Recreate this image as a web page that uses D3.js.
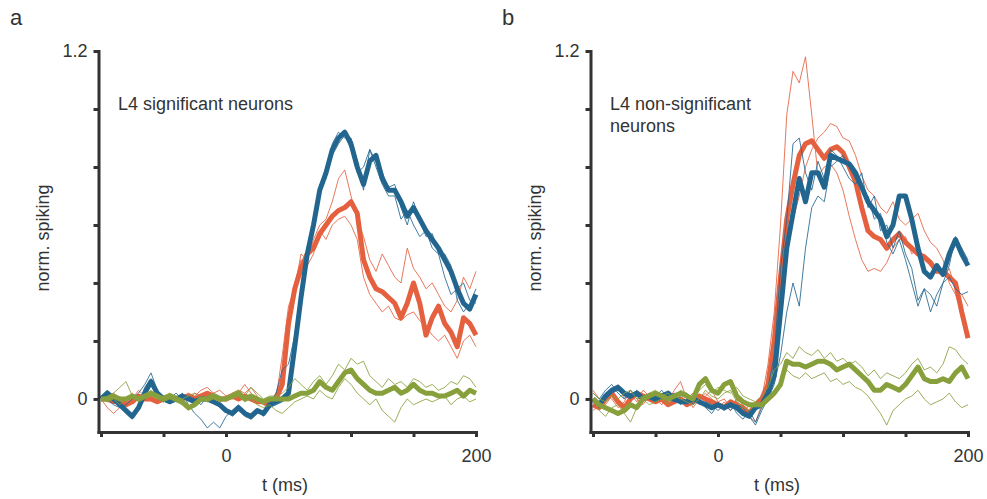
<!DOCTYPE html>
<html>
<head>
<meta charset="utf-8">
<script src="https://cdn.jsdelivr.net/npm/d3@7"></script>
<style>
  body { margin: 0; background: #fff; }
  svg text { font-family: "Liberation Sans", Arial, sans-serif; fill: #333; }
</style>
</head>
<body>
<div id="chart"></div>
<script>
// time points (ms), one every 5 ms
const times = [-100,-95,-90,-85,-80,-75,-70,-65,-60,-55,
  -50,-45,-40,-35,-30,-25,-20,-15,-10,-5,
  0,5,10,15,20,25,30,35,40,45,
  50,55,60,65,70,75,80,85,90,95,
  100,105,110,115,120,125,130,135,140,145,
  150,155,160,165,170,175,180,185,190,195,200];

const yTicks = [0, 0.2, 0.4, 0.6, 0.8, 1.0, 1.2];
const yLabelled = [0, 1.2];
const xTicks = [-100, -50, 0, 50, 100, 150, 200];
const xLabelled = [0, 200];

const colors = { red: '#e4603f', blue: '#22668f', green: '#87a03c' };

// ---- panel a : L4 significant neurons ----
const aBlueMean = [0.00,0.02,0.00,-0.02,-0.04,-0.06,-0.03,0.02,0.06,0.02,
  0.00,-0.01,0.00,0.01,0.00,-0.01,0.00,0.00,-0.01,-0.02,
  -0.04,-0.05,-0.03,-0.05,-0.06,-0.04,-0.05,-0.02,-0.01,0.00,
  0.02,0.18,0.35,0.50,0.60,0.72,0.78,0.86,0.90,0.92,
  0.88,0.80,0.74,0.82,0.84,0.76,0.72,0.72,0.68,0.63,
  0.66,0.62,0.58,0.55,0.52,0.48,0.44,0.38,0.33,0.31,0.36];
const aBlue1 = [0.01,0.00,-0.02,-0.03,-0.02,0.00,0.02,0.05,0.09,0.03,
  0.00,0.01,0.00,0.02,-0.02,-0.05,-0.07,-0.10,-0.08,-0.10,
  -0.06,-0.04,-0.02,-0.06,-0.07,-0.04,-0.06,-0.02,0.02,0.10,
  0.12,0.22,0.38,0.52,0.62,0.70,0.80,0.84,0.88,0.91,
  0.86,0.78,0.80,0.86,0.80,0.74,0.70,0.70,0.62,0.65,
  0.60,0.56,0.58,0.52,0.50,0.42,0.36,0.38,0.40,0.34,0.33];
const aBlue2 = [0.00,0.03,0.01,-0.01,-0.05,-0.07,-0.02,0.04,0.07,0.01,
  -0.01,0.00,0.02,0.00,0.01,0.00,-0.02,0.01,0.00,-0.03,
  -0.03,-0.06,-0.04,-0.04,-0.07,-0.05,-0.04,-0.03,-0.02,-0.01,
  0.01,0.15,0.33,0.48,0.62,0.74,0.76,0.88,0.92,0.90,
  0.90,0.82,0.72,0.86,0.82,0.78,0.73,0.74,0.66,0.60,
  0.68,0.62,0.56,0.57,0.50,0.50,0.46,0.34,0.30,0.33,0.38];
const aRedMean = [0.00,0.00,-0.01,0.00,-0.02,-0.01,0.01,0.00,0.00,-0.01,
  0.00,0.01,0.00,0.00,0.01,0.00,0.01,0.02,0.01,0.00,
  0.00,0.01,0.00,0.01,0.00,-0.01,-0.01,-0.02,0.00,0.05,
  0.26,0.38,0.45,0.50,0.52,0.57,0.60,0.63,0.65,0.66,
  0.68,0.64,0.48,0.42,0.38,0.37,0.35,0.33,0.28,0.33,
  0.40,0.33,0.22,0.28,0.32,0.26,0.23,0.18,0.28,0.26,0.22];
const aRed1 = [0.00,-0.03,-0.05,-0.03,0.00,0.02,0.00,0.02,0.01,-0.01,
  0.00,0.01,0.00,0.01,0.02,0.01,0.03,0.04,0.02,0.00,
  0.01,0.02,0.03,0.02,0.04,0.01,-0.02,-0.03,0.00,0.15,
  0.32,0.38,0.50,0.48,0.55,0.60,0.62,0.68,0.76,0.79,
  0.70,0.62,0.56,0.48,0.44,0.50,0.46,0.42,0.40,0.52,
  0.45,0.42,0.38,0.40,0.36,0.32,0.30,0.34,0.42,0.38,0.44];
const aRed2 = [0.00,0.01,0.02,0.00,-0.01,0.00,0.03,0.01,0.00,0.02,
  0.01,0.00,0.01,0.00,0.00,0.02,0.01,0.00,0.02,0.03,
  0.01,0.00,0.02,0.05,0.02,0.00,-0.02,-0.01,0.02,0.08,
  0.28,0.40,0.48,0.46,0.50,0.58,0.55,0.60,0.62,0.63,
  0.60,0.55,0.42,0.36,0.33,0.30,0.32,0.28,0.27,0.29,
  0.30,0.27,0.25,0.22,0.20,0.22,0.18,0.14,0.20,0.22,0.18];
const aGreenMean = [0.00,0.00,0.01,0.00,0.00,0.01,0.00,0.01,0.02,0.01,
  0.00,0.01,0.00,-0.01,-0.03,-0.02,0.00,0.00,0.01,0.00,
  0.00,0.01,0.02,0.00,0.01,0.00,-0.01,0.00,0.00,0.00,
  0.00,0.01,0.02,0.02,0.03,0.06,0.04,0.03,0.06,0.09,
  0.10,0.07,0.05,0.03,0.02,0.02,0.03,0.04,0.02,0.03,
  0.05,0.03,0.02,0.02,0.01,0.01,0.02,0.03,0.01,0.03,0.02];
const aGreen1 = [0.00,0.01,0.02,0.04,0.06,0.01,0.00,0.01,0.03,0.00,
  0.01,0.02,0.01,0.00,0.01,0.02,0.00,0.01,0.02,0.01,
  0.00,0.02,0.03,0.01,0.04,0.02,0.00,0.01,0.01,0.02,
  0.04,0.07,0.05,0.03,0.06,0.08,0.05,0.08,0.12,0.10,
  0.14,0.12,0.13,0.08,0.06,0.04,0.07,0.05,0.06,0.04,
  0.07,0.06,0.04,0.05,0.03,0.04,0.06,0.05,0.08,0.07,0.04];
const aGreen2 = [0.00,-0.01,0.00,-0.02,0.00,0.01,-0.01,0.00,0.01,0.00,
  -0.01,0.00,-0.01,-0.02,-0.04,-0.01,0.00,-0.01,0.00,-0.01,
  0.00,0.00,0.01,-0.01,0.00,-0.02,-0.03,-0.02,-0.04,-0.05,
  -0.03,-0.01,0.00,0.01,0.00,0.03,0.01,0.00,0.04,0.07,
  0.05,0.02,0.00,-0.02,0.00,-0.04,-0.06,-0.08,-0.03,0.00,
  -0.02,-0.01,0.00,-0.01,0.00,0.01,-0.02,0.00,0.01,-0.01,0.00];

// ---- panel b : L4 non-significant neurons ----
const bBlueMean = [0.00,-0.02,0.01,0.03,0.04,0.02,0.01,0.02,0.00,0.01,
  0.00,0.01,0.02,0.00,-0.01,-0.01,0.00,-0.01,-0.02,-0.03,
  -0.02,-0.03,-0.02,-0.03,-0.05,-0.06,-0.03,-0.02,0.02,0.08,
  0.30,0.52,0.64,0.76,0.68,0.78,0.78,0.73,0.84,0.83,
  0.82,0.81,0.78,0.73,0.68,0.65,0.62,0.56,0.60,0.70,
  0.70,0.62,0.52,0.44,0.42,0.46,0.43,0.50,0.55,0.50,0.46];
const bBlue1 = [0.02,0.00,0.03,0.05,0.02,0.00,0.03,0.01,-0.01,0.02,
  0.01,0.03,0.00,-0.01,0.01,0.02,-0.02,0.00,-0.03,-0.05,
  -0.02,-0.04,-0.01,-0.05,-0.07,-0.04,-0.08,-0.03,0.04,0.15,
  0.45,0.62,0.88,0.90,0.78,0.72,0.82,0.76,0.86,0.84,
  0.80,0.76,0.74,0.78,0.66,0.70,0.58,0.60,0.52,0.58,
  0.50,0.45,0.34,0.38,0.30,0.36,0.40,0.46,0.56,0.52,0.48];
const bBlue2 = [-0.01,-0.03,0.00,0.02,0.03,0.01,0.00,0.03,0.01,0.00,
  -0.01,0.00,0.01,0.02,-0.02,0.00,0.01,-0.02,-0.01,-0.02,
  -0.04,-0.02,-0.04,-0.02,-0.03,-0.06,-0.09,-0.04,0.00,0.05,
  0.15,0.30,0.40,0.32,0.52,0.66,0.70,0.68,0.80,0.82,
  0.84,0.80,0.76,0.72,0.70,0.62,0.64,0.54,0.50,0.55,
  0.48,0.40,0.32,0.38,0.36,0.32,0.40,0.42,0.38,0.36,0.37];
const bRedMean = [-0.02,-0.03,0.00,0.02,-0.01,-0.03,0.00,0.02,0.01,0.00,
  -0.01,0.00,-0.02,-0.01,0.00,-0.02,-0.01,0.01,0.00,-0.01,
  -0.02,-0.03,-0.01,-0.02,-0.03,-0.05,-0.02,0.00,0.05,0.20,
  0.42,0.62,0.74,0.84,0.88,0.89,0.86,0.83,0.86,0.87,
  0.85,0.80,0.75,0.66,0.58,0.56,0.55,0.52,0.55,0.57,
  0.54,0.52,0.50,0.49,0.47,0.44,0.44,0.42,0.40,0.30,0.21];
const bRed1 = [0.03,0.00,-0.02,0.01,0.05,0.00,0.02,-0.01,0.03,0.01,
  0.00,0.02,-0.01,0.03,0.06,0.00,0.02,0.00,0.01,0.03,
  -0.01,0.00,-0.03,0.00,-0.05,-0.02,-0.04,0.00,0.12,0.30,
  0.60,0.98,1.13,1.09,1.18,0.98,0.77,0.80,0.81,0.78,
  0.72,0.63,0.55,0.48,0.44,0.45,0.44,0.47,0.52,0.55,
  0.56,0.50,0.52,0.48,0.46,0.44,0.42,0.45,0.38,0.36,0.32];
const bRed2 = [-0.04,-0.02,0.01,0.00,-0.03,-0.01,0.03,0.00,-0.02,0.01,
  0.00,-0.02,0.01,0.00,-0.01,0.01,-0.03,0.00,0.02,0.00,
  -0.03,-0.01,-0.04,0.00,-0.02,-0.06,-0.08,-0.02,0.03,0.15,
  0.35,0.55,0.62,0.70,0.80,0.86,0.90,0.92,0.95,0.94,
  0.90,0.89,0.84,0.77,0.72,0.70,0.66,0.64,0.68,0.62,
  0.60,0.62,0.64,0.58,0.54,0.52,0.48,0.40,0.36,0.30,0.22];
const bGreenMean = [0.00,-0.02,-0.03,-0.04,-0.05,-0.04,-0.02,-0.03,0.00,0.01,
  0.02,0.01,0.00,0.01,0.02,0.01,0.00,0.05,0.07,0.03,
  0.02,0.05,0.06,0.01,-0.01,-0.02,-0.02,-0.02,0.00,0.02,
  0.05,0.13,0.12,0.12,0.11,0.12,0.13,0.13,0.12,0.10,
  0.11,0.12,0.10,0.08,0.06,0.03,0.03,0.05,0.04,0.03,
  0.05,0.08,0.11,0.07,0.06,0.06,0.07,0.06,0.09,0.11,0.07];
const bGreen1 = [0.02,0.00,-0.01,0.01,0.00,0.02,0.03,0.00,0.01,0.02,
  0.03,0.01,0.02,0.00,0.03,0.02,0.00,0.03,0.05,0.02,
  0.04,0.03,0.02,0.04,0.01,0.00,-0.01,0.01,0.04,0.10,
  0.12,0.16,0.14,0.18,0.16,0.15,0.17,0.14,0.16,0.13,
  0.14,0.12,0.13,0.11,0.08,0.10,0.07,0.09,0.08,0.07,
  0.09,0.12,0.14,0.10,0.11,0.09,0.12,0.18,0.17,0.14,0.12];
const bGreen2 = [0.00,-0.04,-0.06,-0.03,-0.02,-0.05,-0.08,-0.03,0.00,-0.02,
  -0.01,0.00,-0.02,0.01,0.00,-0.01,-0.02,0.00,0.03,0.01,
  0.00,0.02,0.03,-0.01,-0.03,-0.04,-0.02,-0.03,-0.01,0.01,
  0.06,0.10,0.08,0.07,0.09,0.07,0.08,0.09,0.06,0.07,
  0.05,0.06,0.04,0.03,0.01,-0.02,-0.05,-0.09,-0.04,-0.02,
  0.00,0.01,0.03,0.00,-0.02,-0.01,0.00,0.02,-0.01,-0.03,-0.02];

const W = 987, H = 499;

const svg = d3.select('#chart').append('svg')
  .attr('width', W)
  .attr('height', H);

function drawPanel(offset, letter, titleLines, groups) {
  // both panels share the same geometry, just shifted right
  let xScale = d3.scaleLinear().domain([-102, 200]).range([98.5 + offset, 476 + offset]);
  let yScale = d3.scaleLinear().domain([-0.114, 1.2]).range([432, 51]);

  let g = svg.append('g').attr('class', 'panel');

  let line = d3.line()
    .x(function (d, i) { return xScale(times[i]); })
    .y(function (d) { return yScale(d); });

  // red first, then blue, green on top; thin traces under their mean
  groups.forEach(function (grp) {
    grp.thin.forEach(function (arr) {
      g.append('path')
        .attr('d', line(arr))
        .attr('fill', 'none')
        .attr('stroke', grp.color)
        .attr('stroke-width', 1)
        .attr('stroke-opacity', 0.85)
        .attr('stroke-linejoin', 'round');
    });
    g.append('path')
      .attr('d', line(grp.mean))
      .attr('fill', 'none')
      .attr('stroke', grp.color)
      .attr('stroke-width', 5)
      .attr('stroke-linejoin', 'round')
      .attr('stroke-linecap', 'butt');
  });

  let yAxis = d3.axisLeft(yScale)
    .tickValues(yTicks)
    .tickSize(5)
    .tickSizeOuter(0)
    .tickPadding(6)
    .tickFormat(function (d) { return yLabelled.indexOf(d) >= 0 ? (d === 0 ? '0' : d3.format('.1f')(d)) : ''; });

  let xAxis = d3.axisBottom(xScale)
    .tickValues(xTicks)
    .tickSize(5)
    .tickSizeOuter(0)
    .tickPadding(12)
    .tickFormat(function (d) { return xLabelled.indexOf(d) >= 0 ? d : ''; });

  let ya = g.append('g')
    .attr('transform', 'translate(' + (98.5 + offset) + ',0)')
    .call(yAxis);
  let xa = g.append('g')
    .attr('transform', 'translate(0,432)')
    .call(xAxis);

  [ya, xa].forEach(function (ax) {
    ax.select('.domain').attr('stroke', '#333').attr('stroke-width', 3).attr('stroke-linecap', 'square');
    ax.selectAll('.tick line').attr('stroke', '#333').attr('stroke-width', 3);
    ax.selectAll('.tick text').attr('font-size', 18).attr('fill', '#333')
      .attr('font-family', '"Liberation Sans", Arial, sans-serif');
  });

  // axis titles
  g.append('text')
    .attr('x', 285 + offset)
    .attr('y', 491)
    .attr('text-anchor', 'middle')
    .attr('font-size', 18)
    .text('t (ms)');

  g.append('text')
    .attr('transform', 'translate(' + (49 + offset) + ',238) rotate(-90)')
    .attr('text-anchor', 'middle')
    .attr('font-size', 18)
    .text('norm. spiking');

  // panel letter
  g.append('text')
    .attr('x', 10 + offset)
    .attr('y', 25)
    .attr('font-size', 22)
    .text(letter);

  titleLines.forEach(function (t, i) {
    g.append('text')
      .attr('x', 118 + offset)
      .attr('y', 110 + i * 22)
      .attr('font-size', 18)
      .text(t);
  });
}

drawPanel(0, 'a', ['L4 significant neurons'], [
  { color: colors.red, mean: aRedMean, thin: [aRed1, aRed2] },
  { color: colors.blue, mean: aBlueMean, thin: [aBlue1, aBlue2] },
  { color: colors.green, mean: aGreenMean, thin: [aGreen1, aGreen2] }
]);

drawPanel(492, 'b', ['L4 non-significant', 'neurons'], [
  { color: colors.red, mean: bRedMean, thin: [bRed1, bRed2] },
  { color: colors.blue, mean: bBlueMean, thin: [bBlue1, bBlue2] },
  { color: colors.green, mean: bGreenMean, thin: [bGreen1, bGreen2] }
]);
</script>
</body>
</html>
